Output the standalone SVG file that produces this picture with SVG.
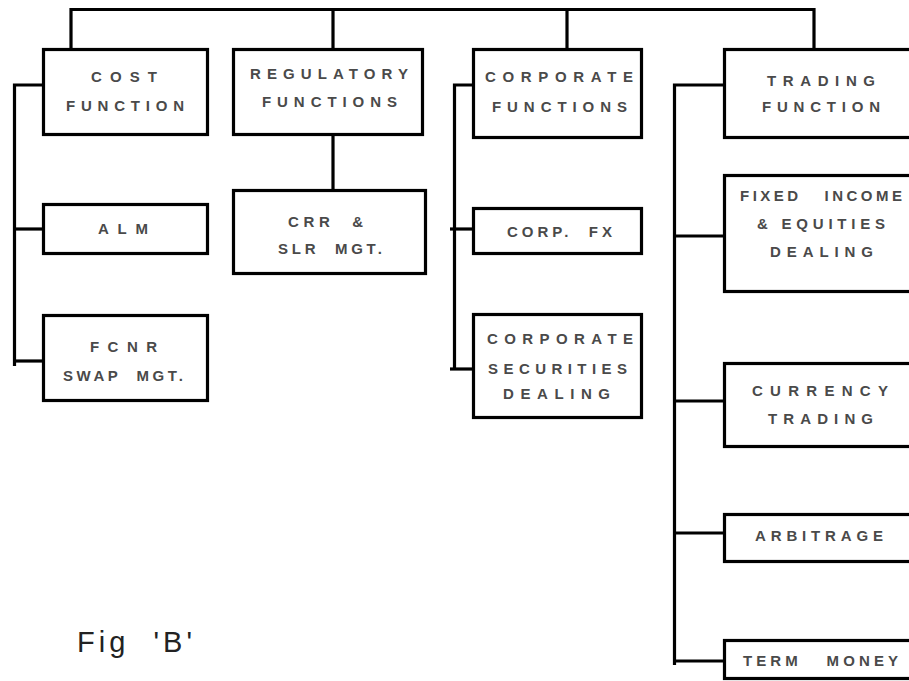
<svg xmlns="http://www.w3.org/2000/svg" width="909" height="681" viewBox="0 0 909 681">
<style>
.box{fill:#fff;stroke:#000;stroke-width:3.2}
.ln{fill:none;stroke:#000;stroke-width:3.2;stroke-linejoin:miter;stroke-linecap:butt}
.t{font-family:"Liberation Sans",Arial,sans-serif;font-size:15px;font-weight:bold;fill:#4a4a4a;white-space:pre}
.fig{font-family:"Liberation Sans",Arial,sans-serif;font-size:29px;fill:#222;white-space:pre}
</style>
<rect width="909" height="681" fill="#fff"/>
<g id="connectors">
<path class="ln" d="M71,52 V9.5 H814 V52"/>
<path class="ln" d="M333,9.5 V49"/>
<path class="ln" d="M567,9.5 V49"/>
<path class="ln" d="M333,136 V190"/>
<path class="ln" d="M42,85 H14.5 V366"/>
<path class="ln" d="M14.5,229 H43"/>
<path class="ln" d="M14.5,361 H43"/>
<path class="ln" d="M476,85 H454.5 V370"/>
<path class="ln" d="M450,229 H473"/>
<path class="ln" d="M450,369 H477"/>
<path class="ln" d="M724,85 H674.5 V665"/>
<path class="ln" d="M674.5,236 H724"/>
<path class="ln" d="M674.5,401 H724"/>
<path class="ln" d="M674.5,533 H724"/>
<path class="ln" d="M674.5,661 H724"/>
</g>
<g id="cost">
<rect class="box" x="43.5" y="49.5" width="164" height="85"/>
<text class="t" x="91" y="82" textLength="66" lengthAdjust="spacing">COST</text>
<text class="t" x="66" y="111" textLength="118" lengthAdjust="spacing">FUNCTION</text>
</g>
<g id="regulatory">
<rect class="box" x="233.5" y="49.5" width="189" height="85"/>
<text class="t" x="250" y="79" textLength="158" lengthAdjust="spacing">REGULATORY</text>
<text class="t" x="262" y="107" textLength="135" lengthAdjust="spacing">FUNCTIONS</text>
</g>
<g id="crr">
<rect class="box" x="233.5" y="190.5" width="192" height="83"/>
<text class="t" x="288" y="227" textLength="75" lengthAdjust="spacing">CRR  &amp;</text>
<text class="t" x="278" y="254" textLength="104" lengthAdjust="spacing">SLR  MGT.</text>
</g>
<g id="alm">
<rect class="box" x="43.5" y="204.5" width="164" height="49"/>
<text class="t" x="98" y="234" textLength="50" lengthAdjust="spacing">ALM</text>
</g>
<g id="fcnr">
<rect class="box" x="43.5" y="315.5" width="164" height="85"/>
<text class="t" x="90" y="352" textLength="67" lengthAdjust="spacing">FCNR</text>
<text class="t" x="63" y="381" textLength="120" lengthAdjust="spacing">SWAP  MGT.</text>
</g>
<g id="corporate">
<rect class="box" x="473.5" y="49.5" width="168" height="88"/>
<text class="t" x="485" y="82" textLength="148" lengthAdjust="spacing">CORPORATE</text>
<text class="t" x="492" y="112" textLength="135" lengthAdjust="spacing">FUNCTIONS</text>
</g>
<g id="corpfx">
<rect class="box" x="473.5" y="208.5" width="168" height="45"/>
<text class="t" x="507" y="237" textLength="105" lengthAdjust="spacing">CORP.  FX</text>
</g>
<g id="corpsec">
<rect class="box" x="473.5" y="314.5" width="168" height="103"/>
<text class="t" x="487" y="344" textLength="146" lengthAdjust="spacing">CORPORATE</text>
<text class="t" x="488" y="374" textLength="139" lengthAdjust="spacing">SECURITIES</text>
<text class="t" x="503" y="399" textLength="107" lengthAdjust="spacing">DEALING</text>
</g>
<g id="trading">
<rect class="box" x="724.5" y="49.5" width="250" height="88"/>
<text class="t" x="767" y="86" textLength="108" lengthAdjust="spacing">TRADING</text>
<text class="t" x="762" y="112" textLength="118" lengthAdjust="spacing">FUNCTION</text>
</g>
<g id="fixedincome">
<rect class="box" x="724.5" y="175.5" width="250" height="116"/>
<text class="t" x="740" y="201" textLength="162" lengthAdjust="spacing">FIXED   INCOME</text>
<text class="t" x="757" y="229" textLength="128" lengthAdjust="spacing">&amp; EQUITIES</text>
<text class="t" x="770" y="257" textLength="103" lengthAdjust="spacing">DEALING</text>
</g>
<g id="currency">
<rect class="box" x="724.5" y="363.5" width="250" height="83"/>
<text class="t" x="752" y="396" textLength="136" lengthAdjust="spacing">CURRENCY</text>
<text class="t" x="768" y="424" textLength="105" lengthAdjust="spacing">TRADING</text>
</g>
<g id="arbitrage">
<rect class="box" x="724.5" y="514.5" width="250" height="47"/>
<text class="t" x="755" y="541" textLength="128" lengthAdjust="spacing">ARBITRAGE</text>
</g>
<g id="termmoney">
<rect class="box" x="724.5" y="640.5" width="250" height="38"/>
<text class="t" x="743" y="666" textLength="155" lengthAdjust="spacing">TERM   MONEY</text>
</g>
<text class="fig" x="77" y="652" textLength="115" lengthAdjust="spacing">Fig  'B'</text>
</svg>
